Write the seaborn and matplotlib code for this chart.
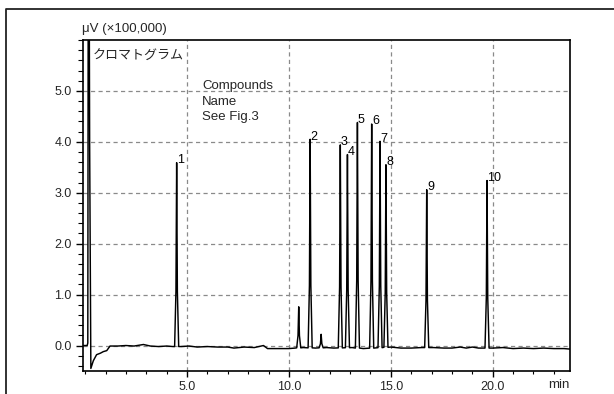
import numpy as np
import pandas as pd
import matplotlib
matplotlib.use("Agg")
import matplotlib.pyplot as plt
from matplotlib.lines import Line2D
from matplotlib.ticker import MultipleLocator, FixedLocator
import seaborn as sns

# ---------------- data ----------------
# baseline / solvent-front trace knots (min, x100,000 uV)
trace_t = [-0.12, 0.10, 0.13, 0.15, 0.20, 0.22, 0.28, 0.40, 0.56, 0.75, 0.89, 1.06, 1.22,
           1.6, 2.0, 2.4, 2.86, 3.2, 3.6, 4.0, 4.3, 4.7, 5.1, 5.5, 6.0, 6.5, 7.0, 7.3,
           7.8, 8.3, 8.75, 8.95, 9.5, 10.0, 10.3, 10.7, 11.3, 11.85, 12.2, 13.1, 13.65,
           15.0, 15.5, 16.0, 16.5, 17.1, 17.6, 18.0, 18.4, 18.7, 19.0, 19.3, 20.0,
           20.5, 21.0, 21.5, 22.0, 22.5, 23.0, 23.5, 23.79]
trace_v = [0.0, 0.0, 0.05, 7.0, 7.0, 4.0, -0.45, -0.30, -0.18, -0.15, -0.12, -0.10, -0.01,
           -0.01, 0.0, -0.01, 0.02, -0.01, -0.02, -0.01, -0.02, -0.02, -0.01, -0.03, -0.02,
           -0.03, -0.03, -0.05, -0.03, -0.04, 0.0, -0.06, -0.06, -0.06, -0.05, -0.04,
           -0.05, -0.04, -0.05, -0.04, -0.06, -0.03, -0.05, -0.05, -0.04, -0.04, -0.05,
           -0.05, -0.03, -0.05, -0.03, -0.05, -0.05, -0.04, -0.06, -0.05, -0.06, -0.05,
           -0.06, -0.06, -0.07]

peak_labels = ["1", "2", "3", "4", "5", "6", "7", "8", "9", "10"]
peak_times = [4.49, 11.04, 12.52, 12.87, 13.36, 14.06, 14.47, 14.76, 16.76, 19.72]
peak_heights = [3.59, 4.05, 3.94, 3.75, 4.38, 4.35, 4.01, 3.55, 3.06, 3.24]

minor_peak_times = [10.48, 11.58]
minor_peak_heights = [0.76, 0.22]

y_major = [0.0, 1.0, 2.0, 3.0, 4.0, 5.0]
y_tick_labels = ["0.0", "1.0", "2.0", "3.0", "4.0", "5.0"]
x_major = [5.0, 10.0, 15.0, 20.0]
x_tick_labels = ["5.0", "10.0", "15.0", "20.0"]

# ---------------- build the trace (peak glyph template) ----------------
tmpl_dx = [-0.10, -0.035, 0.0, 0.035, 0.10]
tmpl_fr = [0.0, 0.30, 1.0, 0.30, 0.0]

all_pt = peak_times + minor_peak_times
all_ph = peak_heights + minor_peak_heights
pts = []
for t, v in zip(trace_t, trace_v):
    if all(abs(t - p) > 0.11 for p in all_pt):
        pts.append((t, v))
for p, h in zip(all_pt, all_ph):
    b = float(np.interp(p, trace_t, trace_v))
    for dx, fr in zip(tmpl_dx, tmpl_fr):
        pts.append((p + dx, b + fr * (h - b)))
pts.sort()
df = pd.DataFrame(pts, columns=["time", "signal"])

# ---------------- style ----------------
sns.set_theme(style="white")
plt.rcParams["font.family"] = ["Liberation Sans", "Noto Sans CJK JP", "DejaVu Sans"]
plt.rcParams["lines.scale_dashes"] = False

fig = plt.figure(figsize=(6.14, 3.94), dpi=100)
ax = fig.add_axes([0.1347, 0.0584, 0.7936, 0.8401])

ax.set_xlim(-0.12, 23.79)
ax.set_ylim(-0.5, 6.0)

for gx in x_major:
    ax.axvline(gx, color="#8a8a8a", lw=0.9, ls=(0, (3.0, 2.4)), zorder=1)
for gy in y_major:
    ax.axhline(gy, color="#8a8a8a", lw=0.9, ls=(0, (3.0, 2.4)), zorder=1)

sns.lineplot(data=df, x="time", y="signal", ax=ax, color="black", lw=1.05,
             sort=False, estimator=None, zorder=3)

for lab, t, h in zip(peak_labels, peak_times, peak_heights):
    ax.annotate(lab, (t, h), xytext=(0.3, -2.5), textcoords="offset points",
                ha="left", va="bottom", fontsize=9, color="black", zorder=4)

ax.set_xlabel("")
ax.set_ylabel("")
ax.xaxis.set_major_locator(FixedLocator(x_major))
ax.set_xticklabels(x_tick_labels)
ax.xaxis.set_minor_locator(MultipleLocator(1.0))
ax.yaxis.set_major_locator(FixedLocator(y_major))
ax.set_yticklabels(y_tick_labels)
ax.yaxis.set_minor_locator(MultipleLocator(0.2))

ax.tick_params(axis="y", which="major", direction="out", length=5, width=1.0,
               color="black", labelsize=9, pad=3, left=True)
ax.tick_params(axis="y", which="minor", direction="out", length=3.5, width=0.8,
               color="black", left=True)
ax.tick_params(axis="x", which="major", direction="out", length=4, width=1.0,
               color="black", labelsize=9, pad=3.5, bottom=True)
ax.tick_params(axis="x", which="minor", direction="out", length=2.5, width=0.8,
               color="black", bottom=True)

for s in ax.spines.values():
    s.set_color("black")
    s.set_linewidth(1.2)

ax.text(0.021, 0.952, "クロマトグラム", transform=ax.transAxes, ha="left", va="center",
        fontsize=9.4, family=["Noto Sans CJK JP", "DejaVu Sans"])
ax.text(0.245, 0.878, "Compounds\nName\nSee Fig.3", transform=ax.transAxes,
        ha="left", va="top", fontsize=9.5, linespacing=1.36)

fig.text(82 / 614, 1 - 29 / 394, "μV (×100,000)", ha="left", va="center", fontsize=9.5)
fig.text(570 / 614, 1 - 385 / 394, "min", ha="right", va="center", fontsize=9.5)

# outer frame (left and top edge)
fig.add_artist(Line2D([6 / 614, 6 / 614, 1.0], [0.0, 1 - 9 / 394, 1 - 9 / 394],
                      transform=fig.transFigure, color="#222222", lw=1.3))

fig.savefig("out.png", dpi=100)
